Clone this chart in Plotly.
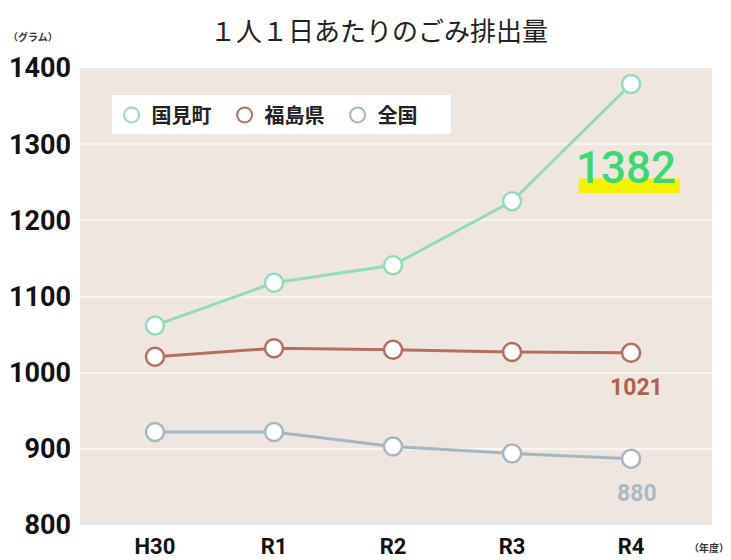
import plotly.graph_objects as go

years = ["H30", "R1", "R2", "R3", "R4"]
kunimi = [1062, 1118, 1141, 1225, 1379]
fukushima = [1021, 1032, 1030, 1027, 1026]
zenkoku = [922, 922, 903, 894, 887]
series_names = ["国見町", "福島県", "全国"]
end_labels = ["1382", "1021", "880"]
y_ticks = [800, 900, 1000, 1100, 1200, 1300, 1400]

colors = ["#93dcb8", "#b86e5e", "#a3b6c2"]
label_colors = ["#3ed873", "#b0604c", "#a9bac3"]

NUM = "Roboto"
CJK = "Noto Sans CJK JP"

fig = go.Figure()
for name, vals, c in zip(series_names, [kunimi, fukushima, zenkoku], colors):
    fig.add_trace(go.Scatter(
        x=years, y=vals, name=name, mode="lines+markers", showlegend=False,
        line=dict(color=c, width=3),
        marker=dict(size=18, color="white", line=dict(color=c, width=2.5)),
    ))
    fig.add_trace(go.Scatter(
        x=[None], y=[None], name=name, mode="markers", showlegend=True,
        marker=dict(size=15, color="white", line=dict(color=c, width=2)),
    ))

# highlight under 1382
fig.add_shape(type="rect", xref="x", yref="y", x0=3.56, x1=4.41, y0=1236, y1=1255,
              fillcolor="#f6f200", line_width=0, layer="above")

fig.add_annotation(x=years[4], y=kunimi[4], text=end_labels[0], yshift=-84, xshift=-5,
                   showarrow=False, font=dict(family=NUM, size=44, color=label_colors[0], weight=500))
fig.add_annotation(x=years[4], y=fukushima[4], text=end_labels[1], yshift=-35, xshift=5,
                   showarrow=False, font=dict(family=NUM, size=23, color=label_colors[1], weight="bold"))
fig.add_annotation(x=years[4], y=zenkoku[4], text=end_labels[2], yshift=-35, xshift=6,
                   showarrow=False, font=dict(family=NUM, size=23, color=label_colors[2], weight="bold"))

fig.add_annotation(xref="paper", yref="paper", x=-0.075, y=1.07, xanchor="center", yanchor="middle",
                   text="（グラム）", showarrow=False, font=dict(family=CJK, size=10, color="#333", weight="bold"))
fig.add_annotation(xref="paper", yref="paper", x=0.995, y=-0.05, xanchor="center", yanchor="middle",
                   text="（年度）", showarrow=False, font=dict(family=CJK, size=10, color="#333", weight="bold"))

fig.update_layout(
    width=723, height=552,
    margin=dict(l=72, r=19, t=60, b=35, autoexpand=False),
    paper_bgcolor="white", plot_bgcolor="#efe7df",
    title=dict(text="１人１日あたりのごみ排出量", x=0.513, xanchor="center", y=0.957, yanchor="middle",
               font=dict(family=CJK, size=26, color="#222")),
    showlegend=True,
    legend=dict(orientation="h", x=0.05, y=0.94, xanchor="left", yanchor="top",
                bgcolor="white", font=dict(family=CJK, size=20, color="#222", weight="bold"),
                itemwidth=30, traceorder="normal", entrywidth=68),
    xaxis=dict(type="category", range=[-0.63, 4.68], showgrid=False, zeroline=False,
               ticks="", tickfont=dict(family=NUM, size=22, color="#111", weight="bold"), ticklabelstandoff=6),
    yaxis=dict(range=[800, 1400], tickvals=y_ticks,
               showgrid=True, gridcolor="#f8f4f0", gridwidth=1.5,
               zeroline=False, ticks="", tickfont=dict(family=NUM, size=27, color="#111", weight="bold"),
               ticklabelstandoff=8),
)

fig.write_html("out.html")
